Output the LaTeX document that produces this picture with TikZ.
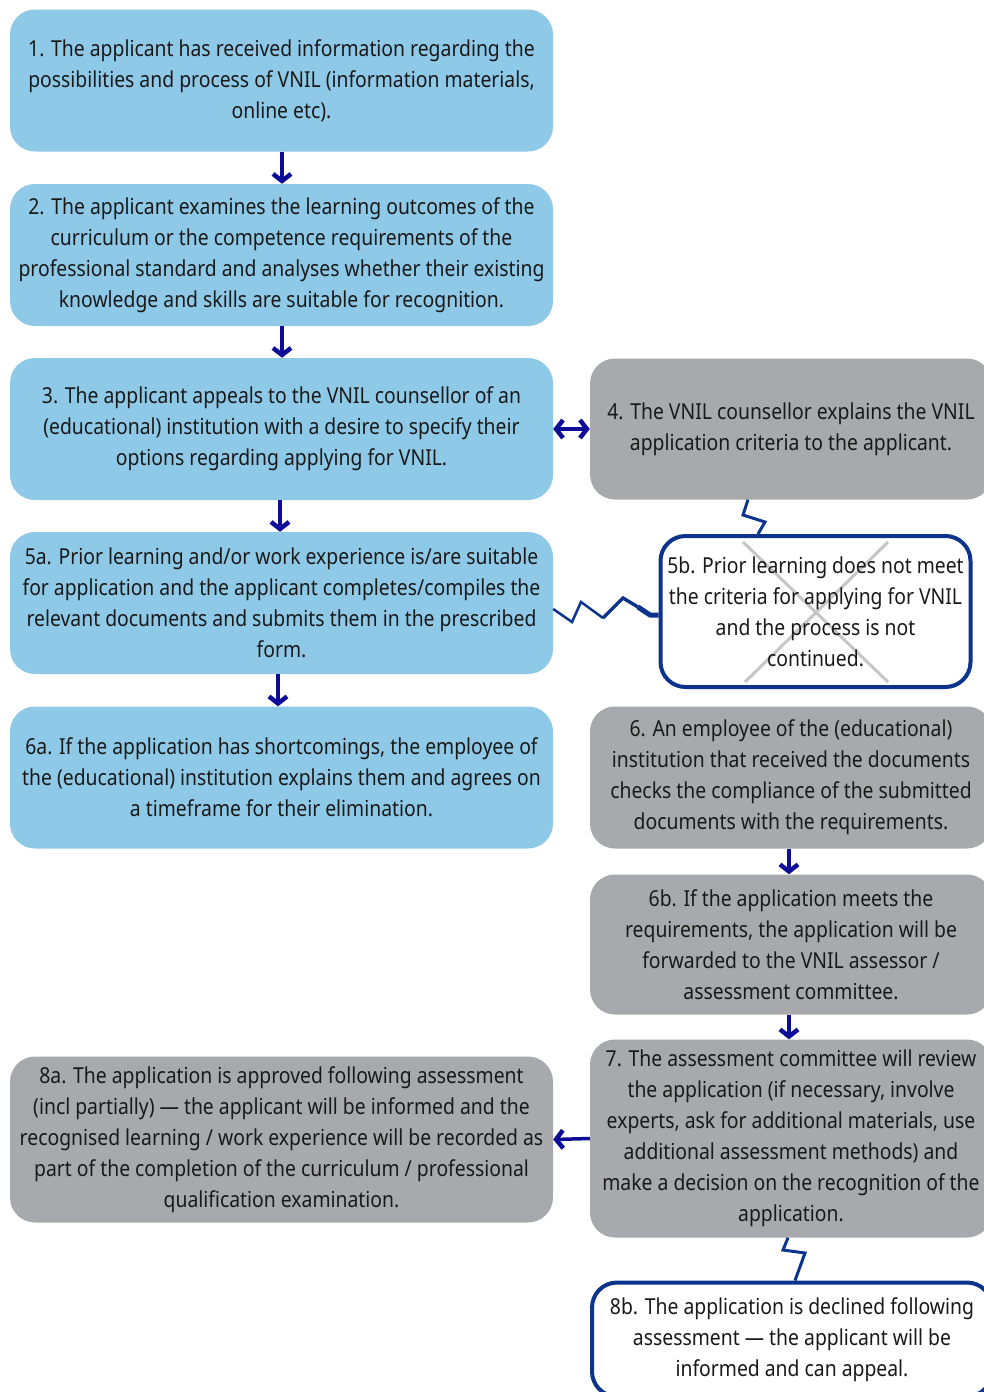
\documentclass[tikz,border=0pt]{standalone}
\usepackage{fontspec}
\setmainfont[FakeStretch=0.88]{Noto Sans}
\usetikzlibrary{arrows.meta}
\definecolor{lblue}{RGB}{143,201,232}
\definecolor{lgray}{RGB}{168,169,172}
\definecolor{navyarr}{RGB}{12,12,150}
\definecolor{bordblue}{RGB}{12,52,140}
\definecolor{txt}{RGB}{25,25,25}
\tikzset{
  box/.style={rounded corners=25pt, inner sep=0pt, align=center, text=txt,
    font=\fontsize{22}{31}\selectfont},
  bluebox/.style={box, fill=lblue, minimum width=543pt, minimum height=142pt},
  graybox/.style={box, fill=lgray, minimum width=402pt},
  whitebox/.style={box, fill=white, draw=bordblue, line width=4pt},
  tip/.tip={Straight Barb[length=7pt,width=18pt,line width=4.5pt]},
  arr/.style={draw=navyarr, line width=3.5pt, -tip},
  darr/.style={draw=navyarr, line width=3.5pt, tip-tip},
  zig/.style={draw=bordblue, line width=3pt, line join=miter},
  cross/.style={draw=gray!45, line width=3pt}
}
\begin{document}
\begin{tikzpicture}[x=1pt,y=-1pt]
\useasboundingbox (0,0) rectangle (984,1392);
\clip (0,0) rectangle (984,1392);
\fill[white] (0,0) rectangle (984,1392);

\node[bluebox] (b1) at (281.5,80.5) {1. The applicant has received information regarding the\\possibilities and process of VNIL (information materials,\\online etc).};
\node[bluebox] (b2) at (281.5,255) {2. The applicant examines the learning outcomes of the\\curriculum or the competence requirements of the\\professional standard and analyses whether their existing\\knowledge and skills are suitable for recognition.};
\node[bluebox] (b3) at (281.5,429) {3. The applicant appeals to the VNIL counsellor of an\\(educational) institution with a desire to specify their\\options regarding applying for VNIL.};
\node[graybox, minimum height=141pt] (b4) at (791,429) {4. The VNIL counsellor explains the VNIL\\application criteria to the applicant.};
\node[bluebox] (b5a) at (281.5,603) {5a. Prior learning and/or work experience is/are suitable\\for application and the applicant completes/compiles the\\relevant documents and submits them in the prescribed\\form.};
\node[whitebox, minimum width=310pt, minimum height=151pt] (b5b) at (815.5,611.5) {};
\draw[cross] (743,542) -- (888,682) (888,542) -- (745,682);
\node[box] (t5b) at (b5b) {5b. Prior learning does not meet\\the criteria for applying for VNIL\\and the process is not\\continued.};
\node[bluebox] (b6a) at (281.5,777.5) {6a. If the application has shortcomings, the employee of\\the (educational) institution explains them and agrees on\\a timeframe for their elimination.};
\node[graybox, minimum height=142pt] (b6) at (791,777.5) {6. An employee of the (educational)\\institution that received the documents\\checks the compliance of the submitted\\documents with the requirements.};
\node[graybox, minimum height=140pt] (b6b) at (791,944.5) {6b. If the application meets the\\requirements, the application will be\\forwarded to the VNIL assessor /\\assessment committee.};
\node[graybox, minimum height=198pt] (b7) at (791,1138.5) {7. The assessment committee will review\\the application (if necessary, involve\\experts, ask for additional materials, use\\additional assessment methods) and\\make a decision on the recognition of the\\application.};
\node[bluebox, fill=lgray, minimum height=166pt] (b8a) at (281.5,1139.5) {8a. The application is approved following assessment\\(incl partially) — the applicant will be informed and the\\recognised learning / work experience will be recorded as\\part of the completion of the curriculum / professional\\qualification examination.};
\node[whitebox, minimum width=400pt, minimum height=114pt] (b8b) at (792,1339.5) {8b. The application is declined following\\assessment — the applicant will be\\informed and can appeal.};

\draw[arr] (b1.south -| 282,0) -- (b2.north -| 282,0);
\draw[arr] (b2.south -| 282,0) -- (b3.north -| 282,0);
\draw[arr] (b3.south -| 280,0) -- (b5a.north -| 280,0);
\draw[arr] (b5a.south -| 278,0) -- (b6a.north -| 278,0);
\draw[darr] (b3.east) -- (b4.west);
\draw[arr] (b6.south -| 789,0) -- (b6b.north -| 789,0);
\draw[arr] (b6b.south -| 789,0) -- (b7.north -| 789,0);
\draw[arr] (b7.west) -- (b8a.east);

\draw[zig] (b4.south -| 748,0) -- (743,515) -- (765,522) -- (b5b.north -| 758,0);
\draw[zig, line width=2.5pt] (b5a.east |- 0,609) -- (572,622) -- (581,602) -- (603,618);
\draw[zig, line width=3.5pt] (603,618) -- (623,598) -- (638,607);
\draw[zig, line width=5pt, line join=round] (638,607) -- (650,615) -- (b5b.west |- 0,615);
\draw[zig] (b7.south -| 788,0) -- (783,1250) -- (805,1253) -- (b8b.north -| 795,0);
\end{tikzpicture}
\end{document}
